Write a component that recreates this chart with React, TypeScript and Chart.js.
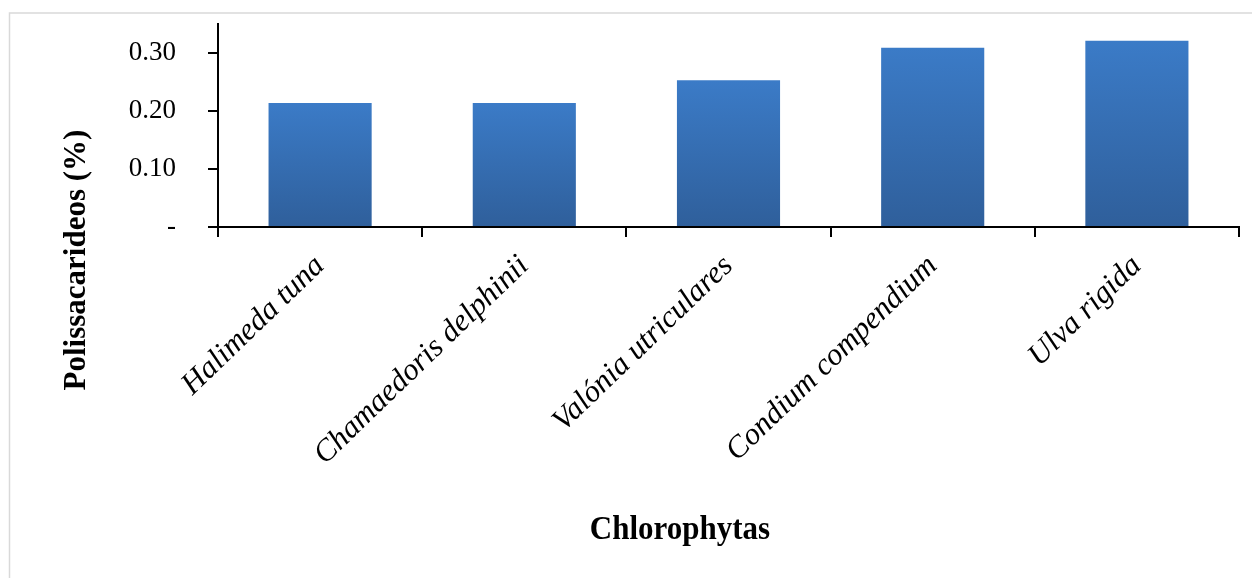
import React, { useEffect, useRef } from "react";
import { Chart, registerables } from "chart.js";

Chart.register(...registerables);

const categories = [
  "Halimeda tuna",
  "Chamaedoris delphinii",
  "Valónia utriculares",
  "Condium compendium",
  "Ulva rigida",
];
const values = [0.214, 0.214, 0.253, 0.309, 0.321];
const yTitle = "Polissacarideos (%)";
const xTitle = "Chlorophytas";
const yMin = 0;
const yMax = 0.35;
const yStep = 0.05;

const SERIF = "'Liberation Serif', 'Times New Roman', serif";

export default function App() {
  const ref = useRef<HTMLCanvasElement | null>(null);

  useEffect(() => {
    const canvas = ref.current;
    if (!canvas) return;

    const decor = {
      id: "decor",
      afterDraw(chart: any) {
        const c = chart.ctx;
        c.save();
        // outer frame
        c.strokeStyle = "#d9d9d9";
        c.lineWidth = 1.5;
        c.strokeRect(9.5, 13, 1300, 700);
        // y title
        c.fillStyle = "#000";
        c.font = `bold 31px ${SERIF}`;
        c.textAlign = "center";
        c.textBaseline = "alphabetic";
        c.translate(85, 260);
        c.rotate(-Math.PI / 2);
        c.fillText(yTitle, 0, 0);
        c.restore();
        c.save();
        c.fillStyle = "#000";
        c.font = `bold 31px ${SERIF}`;
        c.textAlign = "center";
        c.textBaseline = "alphabetic";
        c.translate(680, 539);
        c.scale(1, 1.1);
        c.fillText(xTitle, 0, 0);
        c.restore();
      },
    };

    const chart = new Chart(canvas, {
      type: "bar",
      data: {
        labels: categories,
        datasets: [
          {
            data: values,
            backgroundColor: (ctx: any) => {
              const ch = ctx.chart;
              const area = ch.chartArea;
              if (!area || ctx.raw === undefined) return "#3570b5";
              const y = ch.scales.y;
              const top = y.getPixelForValue(ctx.raw);
              const bot = y.getPixelForValue(0);
              const g = ch.ctx.createLinearGradient(0, top, 0, bot);
              g.addColorStop(0, "#3b7bc7");
              g.addColorStop(1, "#2f5f9b");
              return g;
            },
            borderWidth: 0,
            barPercentage: 0.505,
            categoryPercentage: 1,
          },
        ],
      },
      options: {
        responsive: false,
        animation: false,
        layout: { padding: { left: 0, top: 24, right: 13, bottom: 0 } },
        plugins: {
          legend: { display: false },
          tooltip: { enabled: false },
        },
        scales: {
          x: {
            type: "category",
            offset: true,
            grid: {
              display: true,
              drawOnChartArea: false,
              drawTicks: true,
              tickLength: 10,
              offset: true,
              color: "#000",
              lineWidth: 2,
            },
            border: { display: true, color: "#000", width: 2 },
            ticks: {
              color: "#000",
              font: { family: SERIF, style: "italic", size: 31 },
              minRotation: 44,
              maxRotation: 44,
              autoSkip: false,
              padding: 11,
            },
            afterFit: (scale: any) => {
              scale.height = 578 - 227;
              scale.paddingLeft = 0;
              scale.paddingRight = 0;
            },
          },
          y: {
            min: yMin,
            max: yMax,
            grid: {
              display: true,
              drawOnChartArea: false,
              drawTicks: true,
              tickLength: 10,
              color: "#000",
              lineWidth: 2,
            },
            border: { display: true, color: "#000", width: 2 },
            ticks: {
              stepSize: yStep,
              color: "#000",
              font: { family: SERIF, size: 27 },
              padding: 32,
              callback: (v: any) => {
                const n = Math.round(Number(v) / yStep);
                if (n % 2 !== 0) return "";
                if (Math.abs(Number(v)) < 1e-9) return "-";
                return Number(v).toFixed(2);
              },
            },
            afterFit: (scale: any) => {
              scale.width = 218;
              scale.paddingTop = 0;
              scale.paddingBottom = 0;
            },
          },
        },
      },
      plugins: [decor],
    } as any);

    return () => chart.destroy();
  }, []);

  return (
    <div style={{ position: "absolute", left: 0, top: 0, width: 1252, height: 578 }}>
      <canvas ref={ref} width={1252} height={578} style={{ display: "block" }} />
    </div>
  );
}
